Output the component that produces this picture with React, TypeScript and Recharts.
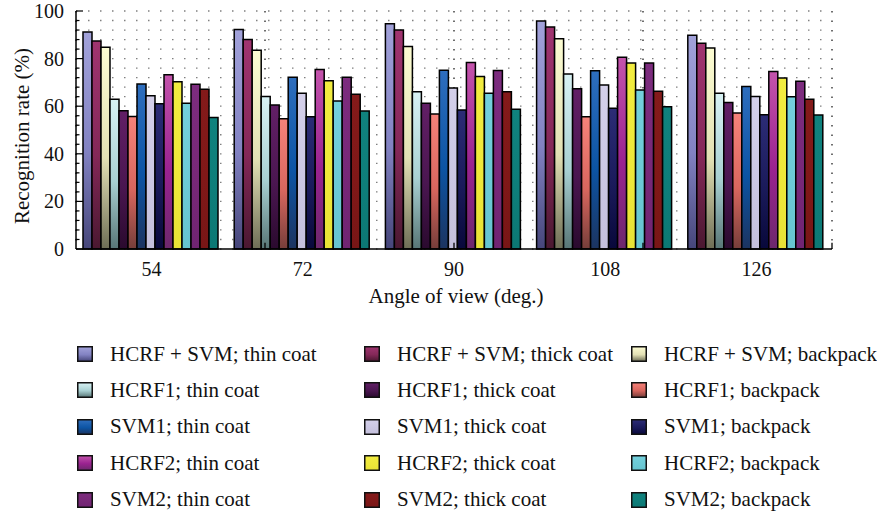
import {
  BarChart,
  Bar,
  XAxis,
  YAxis,
  CartesianGrid,
  ReferenceLine,
  ReferenceArea,
  Label,
} from "recharts";

const categories = ["54", "72", "90", "108", "126"];

// recognition rate (%) per view angle
const hcrfSvmThin = [91.2, 92.2, 94.6, 95.8, 89.8];
const hcrfSvmThick = [87.4, 88.0, 92.0, 93.3, 86.5];
const hcrfSvmBackpack = [84.8, 83.5, 85.1, 88.3, 84.5];
const hcrf1Thin = [62.9, 64.1, 66.1, 73.5, 65.4];
const hcrf1Thick = [58.1, 60.5, 61.2, 67.3, 61.6];
const hcrf1Backpack = [55.7, 54.7, 56.7, 55.6, 57.1];
const svm1Thin = [69.3, 72.2, 75.1, 74.9, 68.3];
const svm1Thick = [64.4, 65.4, 67.6, 68.9, 64.1];
const svm1Backpack = [61.0, 55.6, 58.4, 59.1, 56.4];
const hcrf2Thin = [73.2, 75.4, 78.4, 80.6, 74.6];
const hcrf2Thick = [70.3, 70.7, 72.5, 78.1, 71.8];
const hcrf2Backpack = [61.2, 62.2, 65.4, 66.8, 64.0];
const svm2Thin = [69.2, 72.2, 75.0, 78.1, 70.5];
const svm2Thick = [67.1, 65.0, 66.1, 66.3, 62.9];
const svm2Backpack = [55.2, 58.0, 58.7, 59.8, 56.3];

const seriesNames = [
  "HCRF + SVM; thin coat",
  "HCRF + SVM; thick coat",
  "HCRF + SVM; backpack",
  "HCRF1; thin coat",
  "HCRF1; thick coat",
  "HCRF1; backpack",
  "SVM1; thin coat",
  "SVM1; thick coat",
  "SVM1; backpack",
  "HCRF2; thin coat",
  "HCRF2; thick coat",
  "HCRF2; backpack",
  "SVM2; thin coat",
  "SVM2; thick coat",
  "SVM2; backpack",
];

const seriesValues = [
  hcrfSvmThin, hcrfSvmThick, hcrfSvmBackpack,
  hcrf1Thin, hcrf1Thick, hcrf1Backpack,
  svm1Thin, svm1Thick, svm1Backpack,
  hcrf2Thin, hcrf2Thick, hcrf2Backpack,
  svm2Thin, svm2Thick, svm2Backpack,
];

const yTicks = [0, 4, 8, 12, 16, 20, 24, 28, 32, 36, 40, 44, 48, 52, 56, 60, 64, 68, 72, 76, 80, 84, 88, 92, 96, 100];
const groupEdges = [1, 2, 3, 4];

// gradient stops (top, middle, bottom) for each series
const palette = [
  ["#a2a2da", "#8282c2", "#46467a"],
  ["#a03470", "#842858", "#4a1830"],
  ["#fcfcd2", "#e2e0b4", "#6e6e56"],
  ["#d8f2f4", "#a8d0d2", "#587676"],
  ["#621f66", "#4a1650", "#2a0a2e"],
  ["#f6827a", "#d8665e", "#763e3a"],
  ["#2e6ebe", "#0c54a4", "#1c3460"],
  ["#d4d0ea", "#cbc7e3", "#c4c0dc"],
  ["#2c2c76", "#1a1a5a", "#08083a"],
  ["#c454ac", "#9a2290", "#6c286c"],
  ["#f2ec40", "#eee83a", "#e8e236"],
  ["#74d0dc", "#6ccad6", "#66c4d0"],
  ["#7c2c7e", "#782878", "#702472"],
  ["#841a1a", "#801818", "#781616"],
  ["#10827e", "#0e7e7a", "#0c7874"],
];

const data = categories.map((angle, i) => {
  const row: Record<string, string | number> = { angle };
  seriesValues.forEach((vals, s) => {
    row["s" + s] = vals[i];
  });
  return row;
});

const FONT = "'Liberation Serif', 'Times New Roman', serif";

function YTick(props: any) {
  const { x, y, payload } = props;
  const major = payload.value % 20 === 0;
  return (
    <g>
      <line x1={x} x2={x + (major ? 7 : 3.5)} y1={y} y2={y} stroke="#000" strokeWidth={1.2} />
      {major && (
        <text x={x - 12} y={y} dy="0.35em" textAnchor="end" fontSize={20} fontFamily={FONT} fill="#111">
          {payload.value}
        </text>
      )}
    </g>
  );
}

function YTitle(props: any) {
  const { viewBox } = props;
  const cx = viewBox.x + 22;
  const cy = viewBox.y + viewBox.height / 2 + 6;
  return (
    <text
      x={cx}
      y={cy}
      transform={`rotate(-90 ${cx} ${cy})`}
      textAnchor="middle"
      dy="0.35em"
      fontSize={21}
      fontFamily={FONT}
      fill="#111"
    >
      Recognition rate (%)
    </text>
  );
}

function XTitle(props: any) {
  const { viewBox } = props;
  return (
    <text
      x={viewBox.x + viewBox.width / 2 + 2}
      y={viewBox.y + 54}
      textAnchor="middle"
      fontSize={21}
      fontFamily={FONT}
      fill="#111"
    >
      Angle of view (deg.)
    </text>
  );
}

function Swatch({ index }: { index: number }) {
  const [top, mid, bottom] = palette[index];
  return (
    <svg width={16} height={16} style={{ display: "block" }}>
      <defs>
        <linearGradient id={"lg" + index} x1="0" y1="0" x2="0" y2="1">
          <stop offset="0%" stopColor={top} />
          <stop offset="55%" stopColor={mid} />
          <stop offset="100%" stopColor={bottom} />
        </linearGradient>
      </defs>
      <rect x={0.75} y={0.75} width={14.5} height={14.5} fill={`url(#lg${index})`} stroke="#111" strokeWidth={1.5} />
    </svg>
  );
}

const legendCols = [77, 364, 631];

function ChartLegend() {
  return (
    <>
      {seriesNames.map((name, i) => {
        const col = i % 3;
        const row = Math.floor(i / 3);
        return (
          <div
            key={name}
            style={{
              position: "absolute",
              left: legendCols[col],
              top: 342 + row * 36.4,
              height: 24,
              display: "flex",
              alignItems: "center",
              fontFamily: FONT,
              fontSize: 21,
              color: "#111",
              whiteSpace: "nowrap",
            }}
          >
            <Swatch index={i} />
            <span style={{ marginLeft: 17 }}>{name}</span>
          </div>
        );
      })}
    </>
  );
}

export default function App() {
  return (
    <div style={{ position: "absolute", left: 0, top: 0, width: 877, height: 514, background: "#fff" }}>
      <BarChart
        width={877}
        height={514}
        data={data}
        margin={{ top: 11, right: 45, bottom: 205, left: 0 }}
        barCategoryGap={7}
        barGap={0}
      >
        <defs>
          {palette.map(([top, mid, bottom], i) => (
            <linearGradient key={i} id={"bar" + i} x1="0" y1="0" x2="0" y2="1">
              <stop offset="0%" stopColor={top} />
              <stop offset="55%" stopColor={mid} />
              <stop offset="100%" stopColor={bottom} />
            </linearGradient>
          ))}
        </defs>
        <CartesianGrid
          vertical={false}
          stroke="#808080"
          strokeWidth={1.3}
          strokeDasharray="1.5 10.5"
        />
        <CartesianGrid
          xAxisId="grid"
          horizontal={false}
          stroke="#222"
          strokeWidth={1.3}
          strokeDasharray="1.5 8"
        />
        <XAxis
          dataKey="angle"
          height={60}
          tickLine={false}
          tickSize={0}
          tickMargin={13}
          axisLine={{ stroke: "#000", strokeWidth: 1.5 }}
          tick={{ fontSize: 20, fontFamily: FONT, fill: "#111" }}
        >
          <Label content={<XTitle />} />
        </XAxis>
        <XAxis
          xAxisId="grid"
          type="number"
          domain={[0, 5]}
          ticks={[0, 1, 2, 3, 4, 5]}
          hide
        />
        <YAxis
          width={76}
          domain={[0, 100]}
          ticks={yTicks}
          interval={0}
          tickLine={false}
          tickSize={0}
          tickMargin={0}
          axisLine={{ stroke: "#000", strokeWidth: 1.5 }}
          tick={<YTick />}
        >
          <Label content={<YTitle />} />
        </YAxis>
        {seriesNames.map((name, i) => (
          <Bar
            key={name}
            dataKey={"s" + i}
            name={name}
            fill={`url(#bar${i})`}
            stroke="#000"
            strokeWidth={1.5}
            isAnimationActive={false}
          />
        ))}
        {groupEdges.map((e) => (
          <ReferenceLine
            key={e}
            xAxisId="grid"
            segment={[{ x: e, y: 0 }, { x: e, y: 2.6 }]}
            stroke="#000"
            strokeWidth={1.3}
          />
        ))}
        <ReferenceArea
          xAxisId="grid"
          x1={0}
          x2={5}
          y1={0}
          y2={100}
          fill="none"
          stroke="#000"
          strokeWidth={1.5}
        />
      </BarChart>
      <ChartLegend />
    </div>
  );
}
